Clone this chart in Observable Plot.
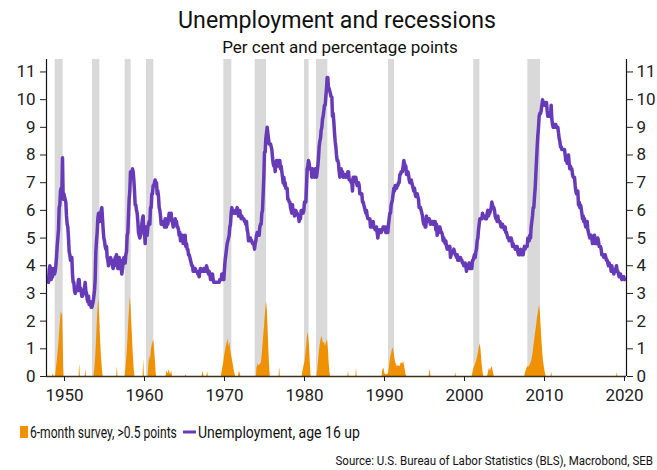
<!DOCTYPE html>
<html>
<head>
<meta charset="utf-8">
<script src="https://cdn.jsdelivr.net/npm/d3@7"></script>
<script src="https://cdn.jsdelivr.net/npm/@observablehq/plot@0.6"></script>
<style>
  html, body { margin: 0; padding: 0; background: #fff; }
  #wrap { position: relative; width: 657px; height: 470px; overflow: hidden; font-family: Roboto, "DejaVu Sans", sans-serif; }
  #bg { position: absolute; left: 0; top: 0; }
  #chart { position: absolute; left: 0; top: 52px; }
</style>
</head>
<body>
<div id="wrap">
  <svg id="bg" width="657" height="470"></svg>
  <div id="chart"></div>
</div>
<script>
// ---------------- data ----------------
const titleText = "Unemployment and recessions";
const subtitleText = "Per cent and percentage points";
const sourceText = "Source: U.S. Bureau of Labor Statistics (BLS), Macrobond, SEB";
const legendOrange = "6-month survey, >0.5 points";
const legendPurple = "Unemployment, age 16 up";

const xTicks = [1950, 1960, 1970, 1980, 1990, 2000, 2010, 2020];
const yTicks = [0, 1, 2, 3, 4, 5, 6, 7, 8, 9, 10, 11];

// NBER recessions (start month, end month)
const recStart = ["1948-11","1953-07","1957-08","1960-04","1969-12","1973-11","1980-01","1981-07","1990-07","2001-03","2007-12"];
const recEnd   = ["1949-10","1954-05","1958-04","1961-02","1970-11","1975-03","1980-07","1982-11","1991-03","2001-11","2009-06"];

// Unemployment rate, monthly, starting Jan 1948
const startYear = 1948;
const u1940s = [
  3.4,3.8,4.0,3.9,3.5,3.6,3.6,3.9,3.8,3.7,3.8,4.0,
  4.3,4.7,5.0,5.3,6.1,6.2,6.7,6.8,6.6,7.9,6.4,6.6
];
const u1950s = [
  6.5,6.4,6.3,5.8,5.5,5.4,5.0,4.5,4.4,4.2,4.2,4.3,
  3.7,3.4,3.4,3.1,3.0,3.2,3.1,3.1,3.3,3.5,3.5,3.1,
  3.2,3.1,2.9,2.9,3.0,3.0,3.2,3.4,3.1,3.0,2.8,2.7,
  2.9,2.6,2.6,2.7,2.5,2.5,2.6,2.7,2.9,3.1,3.5,4.5,
  4.9,5.2,5.7,5.9,5.9,5.6,5.8,6.0,6.1,5.7,5.3,5.0,
  4.9,4.7,4.6,4.7,4.3,4.2,4.0,4.2,4.1,4.3,4.2,4.2,
  4.0,3.9,4.2,4.0,4.3,4.3,4.4,4.1,3.9,3.9,4.3,4.2,
  4.2,3.9,3.7,3.9,4.1,4.3,4.2,4.1,4.4,4.5,5.1,5.2,
  5.8,6.4,6.7,7.4,7.4,7.3,7.5,7.4,7.1,6.7,6.2,6.2,
  6.0,5.9,5.6,5.2,5.1,5.0,5.1,5.2,5.5,5.7,5.8,5.3
];
const u1960s = [
  5.2,4.8,5.4,5.2,5.1,5.4,5.5,5.6,5.5,6.1,6.1,6.6,
  6.6,6.9,6.9,7.0,7.1,6.9,7.0,6.6,6.7,6.5,6.1,6.0,
  5.8,5.5,5.6,5.6,5.5,5.5,5.4,5.7,5.6,5.4,5.7,5.5,
  5.7,5.9,5.7,5.7,5.9,5.6,5.6,5.4,5.5,5.5,5.7,5.5,
  5.6,5.4,5.4,5.3,5.1,5.2,4.9,5.0,5.1,5.1,4.8,5.0,
  4.9,5.1,4.7,4.8,4.6,4.6,4.4,4.4,4.3,4.2,4.1,4.0,
  4.0,3.8,3.8,3.8,3.9,3.8,3.8,3.8,3.7,3.7,3.6,3.8,
  3.9,3.8,3.8,3.8,3.8,3.9,3.8,3.8,3.8,4.0,3.9,3.8,
  3.7,3.8,3.7,3.5,3.5,3.7,3.7,3.5,3.4,3.4,3.4,3.4,
  3.4,3.4,3.4,3.4,3.4,3.5,3.5,3.5,3.7,3.7,3.5,3.5
];
const u1970s = [
  3.9,4.2,4.4,4.6,4.8,4.9,5.0,5.1,5.4,5.5,5.9,6.1,
  5.9,5.9,6.0,5.9,5.9,5.9,6.0,6.1,6.0,5.8,6.0,6.0,
  5.8,5.7,5.8,5.7,5.7,5.7,5.6,5.6,5.5,5.6,5.3,5.2,
  4.9,5.0,4.9,5.0,4.9,4.9,4.8,4.8,4.8,4.6,4.8,4.9,
  5.1,5.2,5.1,5.1,5.1,5.4,5.5,5.5,5.9,6.0,6.6,7.2,
  8.1,8.1,8.6,8.8,9.0,8.8,8.6,8.4,8.4,8.4,8.3,8.2,
  7.9,7.7,7.6,7.7,7.4,7.6,7.8,7.8,7.6,7.7,7.8,7.8,
  7.5,7.6,7.4,7.2,7.0,7.2,6.9,7.0,6.8,6.8,6.8,6.4,
  6.4,6.3,6.3,6.1,6.0,5.9,6.2,5.9,6.0,5.8,5.9,6.0,
  5.9,5.9,5.8,5.8,5.6,5.7,5.7,6.0,5.9,6.0,5.9,6.0
];
const u1980s = [
  6.3,6.3,6.3,6.9,7.5,7.6,7.8,7.7,7.5,7.5,7.5,7.2,
  7.5,7.4,7.4,7.2,7.5,7.5,7.2,7.4,7.6,7.9,8.3,8.5,
  8.6,8.9,9.0,9.3,9.4,9.6,9.8,9.8,10.1,10.4,10.8,10.8,
  10.4,10.4,10.3,10.2,10.1,10.1,9.4,9.5,9.2,8.8,8.5,8.3,
  8.0,7.8,7.8,7.7,7.4,7.2,7.5,7.5,7.3,7.4,7.2,7.3,
  7.3,7.2,7.2,7.3,7.2,7.4,7.4,7.1,7.1,7.1,7.0,7.0,
  6.7,7.2,7.2,7.1,7.2,7.2,7.0,6.9,7.0,7.0,6.9,6.6,
  6.6,6.6,6.6,6.3,6.3,6.2,6.1,6.0,5.9,6.0,5.8,5.7,
  5.7,5.7,5.7,5.4,5.6,5.4,5.4,5.6,5.4,5.4,5.3,5.3,
  5.4,5.2,5.0,5.2,5.2,5.3,5.2,5.2,5.3,5.3,5.4,5.4
];
const u1990s = [
  5.4,5.3,5.2,5.4,5.4,5.2,5.5,5.7,5.9,5.9,6.2,6.3,
  6.4,6.6,6.8,6.7,6.9,6.9,6.8,6.9,6.9,7.0,7.0,7.3,
  7.3,7.4,7.4,7.4,7.6,7.8,7.7,7.6,7.6,7.3,7.4,7.4,
  7.3,7.1,7.0,7.1,7.1,7.0,6.9,6.8,6.7,6.8,6.6,6.5,
  6.6,6.6,6.5,6.4,6.1,6.1,6.1,6.0,5.9,5.8,5.6,5.5,
  5.6,5.4,5.4,5.8,5.6,5.6,5.7,5.7,5.6,5.5,5.6,5.6,
  5.6,5.5,5.5,5.6,5.6,5.3,5.5,5.1,5.2,5.2,5.4,5.4,
  5.3,5.2,5.2,5.1,4.9,5.0,4.9,4.8,4.9,4.7,4.6,4.7,
  4.6,4.6,4.7,4.3,4.4,4.5,4.5,4.5,4.6,4.5,4.4,4.4,
  4.3,4.4,4.2,4.3,4.2,4.3,4.3,4.2,4.2,4.1,4.1,4.0
];
const u2000s = [
  4.0,4.1,4.0,3.8,4.0,4.0,4.0,4.1,3.9,3.9,3.9,3.9,
  4.2,4.2,4.3,4.4,4.3,4.5,4.6,4.9,5.0,5.3,5.5,5.7,
  5.7,5.7,5.7,5.9,5.8,5.8,5.8,5.7,5.7,5.7,5.9,6.0,
  5.8,5.9,5.9,6.0,6.1,6.3,6.2,6.1,6.1,6.0,5.8,5.7,
  5.7,5.6,5.8,5.6,5.6,5.6,5.5,5.4,5.4,5.5,5.4,5.4,
  5.3,5.4,5.2,5.2,5.1,5.0,5.0,4.9,5.0,5.0,5.0,4.9,
  4.7,4.8,4.7,4.7,4.6,4.6,4.7,4.7,4.5,4.4,4.5,4.4,
  4.6,4.5,4.4,4.5,4.4,4.6,4.7,4.6,4.7,4.7,4.7,5.0,
  5.0,4.9,5.1,5.0,5.4,5.6,5.8,6.1,6.1,6.5,6.8,7.3,
  7.8,8.3,8.7,9.0,9.4,9.5,9.5,9.6,9.8,10.0,9.9,9.9
];
const u2010s = [
  9.8,9.8,9.9,9.9,9.6,9.4,9.4,9.5,9.5,9.4,9.8,9.3,
  9.1,9.0,9.0,9.1,9.0,9.1,9.0,9.0,9.0,8.8,8.6,8.5,
  8.3,8.3,8.2,8.2,8.2,8.2,8.2,8.0,7.8,7.8,7.7,7.9,
  8.0,7.7,7.5,7.6,7.5,7.5,7.3,7.2,7.2,7.2,6.9,6.7,
  6.6,6.7,6.7,6.2,6.3,6.1,6.2,6.1,5.9,5.7,5.8,5.6,
  5.7,5.5,5.4,5.4,5.6,5.3,5.2,5.1,5.0,5.0,5.1,5.0,
  4.8,4.9,5.0,5.1,4.8,4.9,4.8,4.9,5.0,4.9,4.7,4.7,
  4.7,4.6,4.4,4.4,4.4,4.3,4.3,4.4,4.3,4.2,4.2,4.1,
  4.0,4.1,4.0,4.0,3.8,4.0,3.8,3.8,3.7,3.8,3.8,3.9,
  4.0,3.8,3.8,3.7,3.6,3.6,3.7,3.6,3.5,3.6,3.6,3.6
];
const u2020s = [3.5];

// 6-month survey, >0.5 points: [decimal year, value]
const survey = [
  [1948.0,0],[1948.5,0],[1948.6,0.1],[1948.7,0],
  [1948.88,0],[1949.0,0.3],[1949.15,0.7],[1949.3,1.2],[1949.42,1.7],[1949.52,2.1],[1949.6,2.35],[1949.7,2.2],[1949.76,2.35],[1949.83,1.4],[1949.9,0.3],[1949.95,0],
  [1951.82,0],[1951.9,0.48],[1951.98,0],
  [1952.58,0],[1952.66,0.24],[1952.74,0],
  [1953.68,0],[1953.8,0.3],[1953.92,0.8],[1954.02,1.4],[1954.12,2.1],[1954.22,2.6],[1954.3,2.8],[1954.38,2.2],[1954.5,1.4],[1954.62,0.7],[1954.75,0.2],[1954.84,0],
  [1956.52,0],[1956.6,0.36],[1956.68,0],
  [1957.58,0],[1957.7,0.35],[1957.82,0.8],[1957.92,1.3],[1958.02,1.9],[1958.12,2.4],[1958.22,2.85],[1958.32,2.5],[1958.45,1.7],[1958.58,0.9],[1958.7,0.3],[1958.8,0],
  [1959.82,0],[1959.9,0.63],[1959.98,0],
  [1960.45,0],[1960.55,0.45],[1960.65,0.75],[1960.75,0.55],[1960.85,0.95],[1960.97,1.15],[1961.08,1.25],[1961.16,1.33],[1961.25,1.0],[1961.35,0.6],[1961.45,0.15],[1961.5,0],
  [1962.7,0],[1962.8,0.2],[1962.95,0.1],[1963.1,0.24],[1963.25,0.05],[1963.4,0.2],[1963.5,0],
  [1965.12,0],[1965.2,0.06],[1965.28,0],
  [1967.2,0],[1967.3,0.18],[1967.45,0],[1967.8,0],[1967.9,0.18],[1967.98,0],
  [1969.6,0],[1969.75,0.25],[1969.9,0.5],[1970.05,0.8],[1970.2,1.05],[1970.32,1.2],[1970.46,1.35],[1970.56,1.05],[1970.66,1.25],[1970.78,0.95],[1970.92,0.7],[1971.08,0.45],[1971.25,0.15],[1971.4,0],
  [1971.75,0],[1971.85,0.2],[1971.95,0.12],[1972.05,0],
  [1973.98,0],[1974.05,0.3],[1974.2,0.45],[1974.35,0.38],[1974.5,0.45],[1974.62,0.5],[1974.75,0.9],[1974.88,1.4],[1975.0,1.8],[1975.12,2.3],[1975.25,2.73],[1975.35,2.4],[1975.45,1.7],[1975.55,0.9],[1975.65,0.3],[1975.72,0],
  [1976.82,0],[1976.9,0.33],[1976.98,0],
  [1979.7,0],[1979.82,0.2],[1979.95,0.4],[1980.08,0.55],[1980.2,0.9],[1980.32,1.3],[1980.42,1.59],[1980.52,1.45],[1980.62,1.1],[1980.72,0.5],[1980.82,0],
  [1981.55,0],[1981.68,0.3],[1981.8,0.7],[1981.92,1.05],[1982.05,1.3],[1982.2,1.45],[1982.35,1.2],[1982.5,1.25],[1982.6,1.08],[1982.72,1.2],[1982.88,1.33],[1982.98,1.0],[1983.08,0.5],[1983.18,0.15],[1983.25,0],
  [1985.42,0],[1985.5,0.2],[1985.58,0],
  [1986.42,0],[1986.5,0.3],[1986.58,0],
  [1989.7,0],[1989.8,0.25],[1989.92,0.3],[1990.05,0.1],[1990.2,0.05],[1990.5,0.1],[1990.62,0.35],[1990.75,0.65],[1990.9,0.85],[1991.05,1.05],[1991.18,0.9],[1991.3,0.65],[1991.45,0.45],[1991.6,0.35],[1991.75,0.4],[1991.95,0.35],[1992.1,0.5],[1992.28,0.45],[1992.4,0.54],[1992.55,0.3],[1992.7,0.05],[1992.8,0],
  [1995.58,0],[1995.66,0.27],[1995.75,0.12],[1995.82,0],
  [1998.82,0],[1998.9,0.15],[1998.98,0],
  [2000.95,0],[2001.1,0.2],[2001.25,0.35],[2001.4,0.45],[2001.55,0.6],[2001.7,0.8],[2001.85,1.05],[2001.98,1.18],[2002.08,0.9],[2002.2,0.45],[2002.32,0.15],[2002.4,0],
  [2002.88,0],[2003.0,0.15],[2003.12,0.3],[2003.25,0.2],[2003.35,0.3],[2003.46,0.36],[2003.58,0.2],[2003.72,0],
  [2007.52,0],[2007.65,0.15],[2007.8,0.3],[2007.95,0.35],[2008.1,0.35],[2008.25,0.45],[2008.4,0.55],[2008.55,0.8],[2008.7,1.15],[2008.85,1.5],[2009.0,1.8],[2009.12,2.1],[2009.25,2.35],[2009.38,2.57],[2009.48,2.3],[2009.6,1.7],[2009.72,1.1],[2009.85,0.6],[2010.0,0.3],[2010.12,0.1],[2010.22,0],
  [2010.82,0],[2010.9,0.15],[2010.98,0],
  [2019.02,0],[2019.1,0.15],[2019.18,0],[2020.0,0]
];

// ---------------- build ----------------
const toYear = s => { const [y, m] = s.split("-").map(Number); return y + (m - 1) / 12; };
const toYearEnd = s => { const [y, m] = s.split("-").map(Number); return y + m / 12; };
const recessions = recStart.map((s, i) => ({x1: toYear(s), x2: toYearEnd(recEnd[i])}));

const unempValues = [].concat(u1940s, u1950s, u1960s, u1970s, u1980s, u1990s, u2000s, u2010s, u2020s);
const unemp = unempValues.map((v, i) => ({t: startYear + i / 12, v}));
const surveyData = survey.map(([t, v]) => ({t, v}));

const xDomain = [1947.75, 2020.25];
const yDomain = [0, 11.45];
const PURPLE = "#673ab7";
const ORANGE = "#ef9100";

const chart = Plot.plot({
  width: 657,
  height: 360,
  marginLeft: 46,
  marginRight: 31,
  marginTop: 7,
  marginBottom: 36,
  style: {fontFamily: "Roboto, sans-serif", fontSize: "17px", color: "#222", background: "transparent"},
  x: {domain: xDomain, label: null},
  y: {domain: yDomain, label: null},
  marks: [
    Plot.rect(recessions, {x1: "x1", x2: "x2", y1: yDomain[0], y2: yDomain[1], fill: "#d9d9d9"}),
    Plot.areaY(surveyData, {x: "t", y: "v", fill: ORANGE}),
    Plot.lineY(unemp, {x: "t", y: "v", stroke: PURPLE, strokeWidth: 3.5, strokeLinejoin: "round"}),
    Plot.ruleX([xDomain[0], xDomain[1]], {stroke: "#111", strokeWidth: 1.2}),
    Plot.ruleY([0], {stroke: "#3b2f1e", strokeWidth: 1.5}),
    Plot.axisY({anchor: "left", ticks: yTicks, tickSize: 6, tickPadding: 5, label: null, tickFormat: d => String(d)}),
    Plot.axisY({anchor: "right", ticks: yTicks, tickSize: 6, tickPadding: 4, label: null, tickFormat: d => String(d)}),
    Plot.axisX({ticks: xTicks, tickSize: 5, tickPadding: 7, label: null, tickFormat: d => String(d)})
  ]
});
document.getElementById("chart").appendChild(chart);

// header / legend / source (scaled horizontally to the reference widths)
const bg = d3.select("#bg");
const font = "Roboto, sans-serif";
function fitText(txt, x, y, size, width, anchor) {
  const t = bg.append("text").text(txt)
    .attr("font-family", font).attr("font-size", size).attr("fill", "#111")
    .attr("text-anchor", anchor);
  const natural = t.node().getComputedTextLength();
  const k = natural > 0 ? width / natural : 1;
  t.attr("transform", `translate(${x},${y}) scale(${k},1)`);
  return t;
}
fitText(titleText, 337, 28, 23, 318, "middle");
fitText(subtitleText, 340, 53, 16, 236, "middle");

// legend
bg.append("rect").attr("x", 20).attr("y", 426).attr("width", 8).attr("height", 12).attr("fill", ORANGE);
fitText(legendOrange, 30, 438, 16, 147, "start");
bg.append("line").attr("x1", 183).attr("x2", 196).attr("y1", 432).attr("y2", 432)
  .attr("stroke", PURPLE).attr("stroke-width", 3);
fitText(legendPurple, 198, 438, 16, 162, "start");

// source
fitText(sourceText, 653, 465, 12, 318, "end");
</script>
</body>
</html>
